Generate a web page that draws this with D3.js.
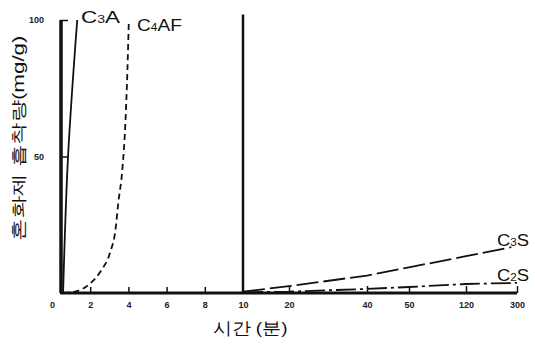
<!DOCTYPE html>
<html>
<head>
<meta charset="utf-8">
<script src="https://cdn.jsdelivr.net/npm/d3@7"></script>
<style>
	body { margin: 0; background: #fff; }
	svg { display: block; }
	.tick text { font-family: "Liberation Sans", Arial, sans-serif; font-size: 9px; font-weight: bold; fill: #222; }
	.lbl { font-family: "Liberation Sans", Arial, sans-serif; fill: #111; }
</style>
</head>
<body>
<div id="chart"></div>
<script>
// time (min) and adsorption (mg/g)
let c3aTime = [0.58, 0.84, 1.32];
let c3aVal = [0, 50, 100];

let c4afTime = [0.6, 1.3, 2.0, 2.55, 3.05, 3.32, 3.47, 3.68, 3.84, 3.95, 4.02];
let c4afVal = [0, 0.7, 3.5, 8, 15, 23, 33, 45, 62, 82, 99];

let c3sTime = [10, 20, 40, 50, 120, 280];
let c3sVal = [0.5, 2.5, 6.4, 9.4, 13.5, 16.8];

let c2sTime = [10, 20, 40, 50, 120, 300];
let c2sVal = [0.3, 0.5, 1.5, 2.2, 3.3, 3.7];

let leftTicks = [0, 2, 4, 6, 8, 10];
let rightTicks = [20, 40, 50, 120, 300];
let yTicks = [50, 100];

let width = 535,
	height = 347;

let svg = d3.select('#chart').append('svg')
	.attr('width', width)
	.attr('height', height);

// scales: linear 0-10 min, then a compressed, uneven segment 10-300 min
let xL = d3.scaleLinear()
	.domain([0, 10])
	.range([52, 243]);

let xR = d3.scaleLinear()
	.domain([10, 20, 40, 50, 120, 300])
	.range([243, 289, 367, 409, 466, 517]);

let y = d3.scaleLinear()
	.domain([0, 100])
	.range([293, 20]);

let axisX0 = xL(0.42);

// axes
let xAxisL = d3.axisBottom(xL)
	.tickValues(leftTicks)
	.tickSizeInner(-6)
	.tickSizeOuter(0)
	.tickPadding(9)
	.tickFormat(d3.format('d'));

let gL = svg.append('g')
	.attr('transform', 'translate(0,' + y(0) + ')')
	.call(xAxisL);
gL.select('.domain').remove();
gL.selectAll('.tick line')
	.attr('stroke', '#111')
	.attr('stroke-width', 1.5)
	.filter(d => d == 0 || d == 10).remove();

let xAxisR = d3.axisBottom(xR)
	.tickValues(rightTicks)
	.tickSizeInner(-7)
	.tickSizeOuter(0)
	.tickPadding(9)
	.tickFormat(d3.format('d'));

let gR = svg.append('g')
	.attr('transform', 'translate(0,' + y(0) + ')')
	.call(xAxisR);
gR.select('.domain').remove();
gR.selectAll('.tick line')
	.attr('stroke', '#111')
	.attr('stroke-width', 1.5);

let yAxis = d3.axisLeft(y)
	.tickValues(yTicks)
	.tickSizeInner(-8)
	.tickSizeOuter(0)
	.tickPadding(16);

let gY = svg.append('g')
	.attr('transform', 'translate(' + axisX0 + ',0)')
	.call(yAxis);
gY.select('.domain').remove();
gY.selectAll('.tick line').attr('stroke', '#111').attr('stroke-width', 1.5);

// axis lines (thick, like the scan)
svg.append('line')
	.attr('x1', axisX0).attr('x2', xR(300))
	.attr('y1', y(0)).attr('y2', y(0))
	.attr('stroke', '#111').attr('stroke-width', 3);

svg.append('line')
	.attr('x1', axisX0 + 1).attr('x2', axisX0 + 1)
	.attr('y1', y(0)).attr('y2', y(100))
	.attr('stroke', '#111').attr('stroke-width', 3.5);

// break line at 10 min
svg.append('line')
	.attr('x1', xL(10)).attr('x2', xL(10))
	.attr('y1', y(0)).attr('y2', y(102))
	.attr('stroke', '#111').attr('stroke-width', 2.5);

// curves
function drawCurve(times, vals, xs, dash, curve) {
	let pts = times.map((t, i) => [t, vals[i]]);
	let line = d3.line()
		.x(d => xs(d[0]))
		.y(d => y(d[1]))
		.curve(curve);
	svg.append('path')
		.datum(pts)
		.attr('d', line)
		.attr('fill', 'none')
		.attr('stroke', '#111')
		.attr('stroke-width', 1.8)
		.attr('stroke-dasharray', dash);
}

drawCurve(c3aTime, c3aVal, xL, null, d3.curveMonotoneY);
drawCurve(c4afTime, c4afVal, xL, '6,4', d3.curveMonotoneX);
drawCurve(c3sTime, c3sVal, xR, '22,5', d3.curveLinear);
drawCurve(c2sTime, c2sVal, xR, '20,4,3,4', d3.curveLinear);

// curve labels
function chemLabel(x, yy, len, parts) {
	let t = svg.append('text').attr('class', 'lbl')
		.attr('x', x).attr('y', yy)
		.attr('textLength', len)
		.attr('lengthAdjust', 'spacingAndGlyphs')
		.style('font-size', '16px');
	parts.forEach(p => {
		t.append('tspan')
			.style('font-size', p.sub ? '10px' : '16px')
			.text(p.s);
	});
}

chemLabel(81, 23, 39, [{ s: 'C' }, { s: '3', sub: true }, { s: 'A' }]);
chemLabel(137, 31, 45, [{ s: 'C' }, { s: '4', sub: true }, { s: 'AF' }]);
chemLabel(497, 246, 32, [{ s: 'C' }, { s: '3', sub: true }, { s: 'S' }]);
chemLabel(497, 281, 32, [{ s: 'C' }, { s: '2', sub: true }, { s: 'S' }]);

// axis titles
svg.append('text').attr('class', 'lbl')
	.attr('transform', 'translate(24,138) rotate(-90)')
	.attr('text-anchor', 'middle')
	.style('font-size', '16px')
	.attr('textLength', 205)
	.attr('lengthAdjust', 'spacingAndGlyphs')
	.text('혼화제 흡착량(mg/g)');

svg.append('text').attr('class', 'lbl')
	.attr('x', 250).attr('y', 334)
	.attr('text-anchor', 'middle')
	.style('font-size', '17px')
	.attr('textLength', 75)
	.attr('lengthAdjust', 'spacingAndGlyphs')
	.text('시간 (분)');
</script>
</body>
</html>
